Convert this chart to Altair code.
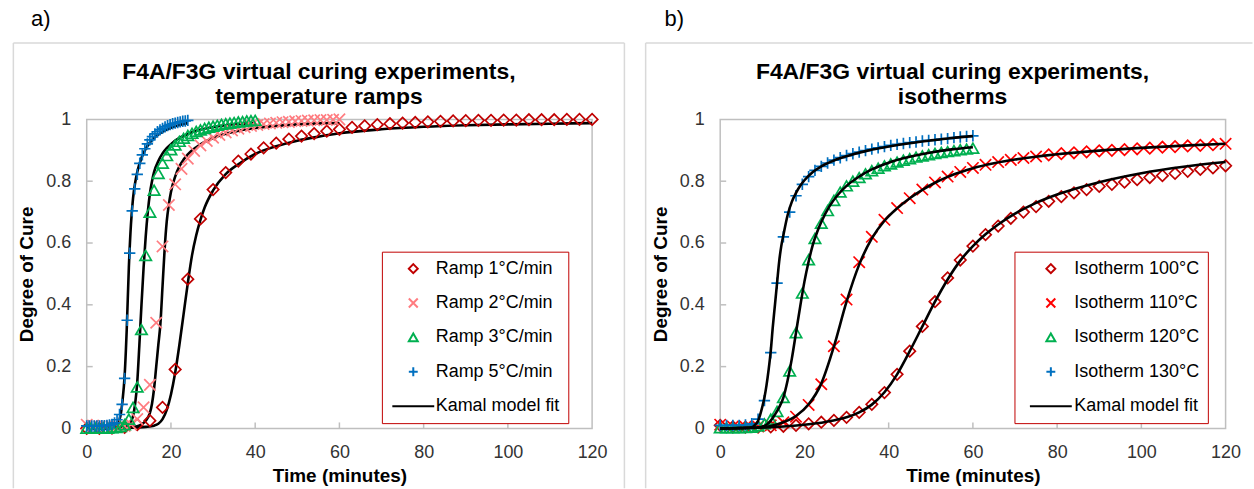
import altair as alt
import pandas as pd

FONT = "Liberation Sans"

# ---------------- panel a) temperature ramps ----------------
RAMP_NAMES = ["Ramp 1°C/min", "Ramp 2°C/min", "Ramp 3°C/min", "Ramp 5°C/min", "Kamal model fit"]
RAMP_COLORS = ["#C00000", "#FF7C80", "#00B050", "#0070C0", "#000000"]

RAMP1_T = [0, 3, 6, 9, 12, 15, 18, 21, 24, 27, 30, 33, 36, 39, 42, 45, 48, 51, 54, 57, 60,
           63, 66, 69, 72, 75, 78, 81, 84, 87, 90, 93, 96, 99, 102, 105, 108, 111, 114, 117, 120]
RAMP1_V = [0.0, 0.0, 0.001, 0.003, 0.012, 0.025, 0.068, 0.191, 0.483, 0.678, 0.773, 0.828, 0.865,
           0.888, 0.908, 0.923, 0.936, 0.946, 0.954, 0.962, 0.968, 0.974, 0.979, 0.983, 0.986, 0.988,
           0.99, 0.992, 0.994, 0.995, 0.996, 0.997, 0.997, 0.998, 0.998, 0.999, 0.999, 0.999, 1.0, 1.0, 1.0]

RAMP2_T = [0, 1.5, 3, 4.5, 6, 7.5, 9, 10.5, 12, 13.5, 15, 16.5, 18, 19.5, 21, 22.5, 24, 25.5, 27, 28.5,
           30, 31.5, 33, 34.5, 36, 37.5, 39, 40.5, 42, 43.5, 45, 46.5, 48, 49.5, 51, 52.5, 54, 55.5, 57, 58.5, 60]
RAMP2_V = [0.012, 0.009, 0.007, 0.006, 0.006, 0.006, 0.008, 0.013, 0.03, 0.068, 0.141, 0.342, 0.589,
           0.723, 0.79, 0.84, 0.873, 0.898, 0.916, 0.93, 0.941, 0.95, 0.958, 0.964, 0.97, 0.975, 0.979,
           0.982, 0.985, 0.987, 0.989, 0.991, 0.992, 0.994, 0.995, 0.996, 0.997, 0.998, 0.998, 0.999, 1.0]

RAMP3_T = [0, 1, 2, 3, 4, 5, 6, 7, 8, 9, 10, 11, 12, 13, 14, 15, 16, 17, 18, 19, 20,
           21, 22, 23, 24, 25, 26, 27, 28, 29, 30, 31, 32, 33, 34, 35, 36, 37, 38, 39, 40]
RAMP3_V = [0.001, 0.001, 0.001, 0.001, 0.001, 0.001, 0.002, 0.003, 0.006, 0.012, 0.03, 0.068, 0.134,
           0.32, 0.56, 0.70, 0.771, 0.825, 0.858, 0.883, 0.902, 0.917, 0.929, 0.939, 0.948, 0.955,
           0.961, 0.966, 0.971, 0.975, 0.978, 0.981, 0.984, 0.986, 0.988, 0.99, 0.992, 0.993, 0.995, 0.996, 0.997]

RAMP5_T = [0, 0.6, 1.2, 1.8, 2.4, 3.0, 3.6, 4.2, 4.8, 5.4, 6.0, 6.6, 7.2, 7.8, 8.4, 9.0, 9.6, 10.2,
           10.8, 11.4, 12.0, 12.6, 13.2, 13.8, 14.4, 15.0, 15.6, 16.2, 16.8, 17.4, 18.0, 18.6, 19.2,
           19.8, 20.4, 21.0, 21.6, 22.2, 22.8, 23.4, 24.0]
RAMP5_V = [0.008, 0.008, 0.008, 0.008, 0.008, 0.008, 0.009, 0.009, 0.01, 0.011, 0.013, 0.018, 0.028,
           0.045, 0.078, 0.162, 0.35, 0.567, 0.704, 0.775, 0.822, 0.858, 0.885, 0.905, 0.921, 0.934,
           0.944, 0.953, 0.96, 0.966, 0.971, 0.976, 0.98, 0.983, 0.986, 0.988, 0.99, 0.992, 0.994, 0.995, 0.997]

FIT1_T = [0, 10, 14, 16, 17, 18, 19, 20, 21, 22, 23, 24, 25, 26, 27, 28, 30, 33, 36, 40, 45, 50, 55,
          60, 70, 80, 90, 100, 110, 120]
FIT1_V = [0, 0.002, 0.005, 0.009, 0.015, 0.03, 0.06, 0.11, 0.18, 0.27, 0.37, 0.47, 0.56, 0.625, 0.675,
          0.715, 0.77, 0.823, 0.855, 0.888, 0.913, 0.931, 0.944, 0.955, 0.968, 0.976, 0.981, 0.984, 0.986, 0.988]
FIT2_T = [0, 10, 12, 13, 14, 15, 15.5, 16, 16.5, 17, 17.5, 18, 18.5, 19, 19.5, 20, 21, 22, 23, 24, 26,
          28, 30, 35, 40, 45, 50, 55, 60]
FIT2_V = [0, 0.003, 0.007, 0.013, 0.025, 0.05, 0.08, 0.13, 0.2, 0.27, 0.34, 0.46, 0.58, 0.67, 0.725,
          0.765, 0.815, 0.848, 0.87, 0.887, 0.91, 0.927, 0.94, 0.96, 0.972, 0.979, 0.984, 0.987, 0.988]
FIT3_T = [0, 8, 10, 10.5, 11, 11.5, 12, 12.5, 13, 13.5, 14, 14.5, 15, 15.5, 16, 17, 18, 19, 20, 22, 24,
          26, 28, 30, 33, 36, 40]
FIT3_V = [0, 0.003, 0.012, 0.022, 0.04, 0.08, 0.15, 0.27, 0.4, 0.52, 0.62, 0.7, 0.76, 0.8, 0.83, 0.865,
          0.89, 0.907, 0.92, 0.94, 0.953, 0.963, 0.97, 0.975, 0.981, 0.985, 0.988]
FIT5_T = [0, 6, 7, 7.5, 8, 8.5, 9, 9.5, 10, 10.5, 11, 11.5, 12, 13, 14, 15, 16, 18, 20, 22, 24]
FIT5_V = [0, 0.002, 0.008, 0.018, 0.04, 0.09, 0.17, 0.32, 0.52, 0.66, 0.745, 0.795, 0.83, 0.875, 0.905,
          0.925, 0.94, 0.96, 0.973, 0.982, 0.988]

# ---------------- panel b) isotherms ----------------
ISO_NAMES = ["Isotherm 100°C", "Isotherm 110°C", "Isotherm 120°C", "Isotherm 130°C", "Kamal model fit"]
ISO_COLORS = ["#C00000", "#FF0000", "#00B050", "#0070C0", "#000000"]

ISO100_T = RAMP1_T
ISO100_V = [0.01, 0.005, 0.004, 0.004, 0.005, 0.007, 0.01, 0.015, 0.02, 0.026, 0.036, 0.052, 0.078,
            0.116, 0.175, 0.25, 0.33, 0.41, 0.487, 0.545, 0.59, 0.627, 0.655, 0.68, 0.70, 0.718, 0.735,
            0.75, 0.762, 0.773, 0.783, 0.79, 0.797, 0.805, 0.812, 0.818, 0.825, 0.832, 0.838, 0.843, 0.85]
ISO110_T = RAMP1_T
ISO110_V = [0.012, 0.006, 0.005, 0.006, 0.01, 0.02, 0.038, 0.076, 0.143, 0.266, 0.417, 0.538, 0.62,
            0.675, 0.713, 0.745, 0.773, 0.796, 0.815, 0.83, 0.843, 0.853, 0.862, 0.869, 0.875, 0.88,
            0.885, 0.889, 0.892, 0.895, 0.898, 0.9, 0.902, 0.905, 0.907, 0.91, 0.912, 0.914, 0.916, 0.918, 0.921]
ISO110_DIAMOND_RANGE = [78, 117]   # in the source these 110°C points are drawn as diamonds
ISO120_T = RAMP2_T
ISO120_V = [0.002, 0.002, 0.002, 0.002, 0.003, 0.004, 0.008, 0.015, 0.03, 0.055, 0.10, 0.186, 0.31,
            0.438, 0.546, 0.615, 0.664, 0.705, 0.738, 0.765, 0.785, 0.80, 0.812, 0.824, 0.834, 0.842,
            0.85, 0.856, 0.862, 0.868, 0.873, 0.878, 0.882, 0.886, 0.89, 0.893, 0.896, 0.899, 0.902, 0.904, 0.907]
ISO130_T = RAMP2_T
ISO130_V = [0.01, 0.01, 0.01, 0.01, 0.011, 0.015, 0.03, 0.09, 0.245, 0.47, 0.62, 0.70, 0.753, 0.79,
            0.815, 0.835, 0.848, 0.859, 0.868, 0.876, 0.883, 0.889, 0.894, 0.899, 0.904, 0.908, 0.912,
            0.916, 0.919, 0.922, 0.925, 0.927, 0.93, 0.932, 0.934, 0.936, 0.938, 0.941, 0.943, 0.945, 0.947]

FIT100_T = [0, 10, 15, 20, 25, 30, 33, 36, 39, 42, 45, 48, 51, 54, 57, 60, 63, 66, 70, 75, 80, 90, 100, 110, 120]
FIT100_V = [0, 0.003, 0.006, 0.012, 0.021, 0.036, 0.052, 0.077, 0.117, 0.175, 0.25, 0.33, 0.41, 0.482,
            0.543, 0.59, 0.628, 0.66, 0.695, 0.73, 0.757, 0.797, 0.826, 0.847, 0.862]
FIT110_T = [0, 9, 12, 15, 18, 21, 24, 27, 30, 33, 36, 39, 42, 45, 48, 51, 54, 57, 60, 65, 70, 80, 90, 100, 110, 120]
FIT110_V = [0, 0.002, 0.008, 0.02, 0.04, 0.078, 0.145, 0.265, 0.41, 0.53, 0.615, 0.672, 0.712, 0.745,
            0.772, 0.795, 0.814, 0.829, 0.842, 0.858, 0.87, 0.887, 0.899, 0.908, 0.915, 0.921]
FIT120_T = [0, 9, 11, 12, 13, 14, 15, 16, 17, 18, 19, 20, 21, 22, 23, 24, 26, 28, 30, 33, 36, 40, 45, 50, 55, 60]
FIT120_V = [0, 0.003, 0.012, 0.025, 0.045, 0.068, 0.1, 0.155, 0.225, 0.31, 0.395, 0.475, 0.54, 0.595,
            0.635, 0.668, 0.72, 0.757, 0.785, 0.815, 0.838, 0.86, 0.879, 0.893, 0.903, 0.91]
FIT130_T = [0, 7, 8, 8.5, 9, 9.5, 10, 10.5, 11, 11.5, 12, 12.5, 13, 13.5, 14, 14.5, 15, 16, 17, 18, 19,
            20, 22, 24, 27, 30, 35, 40, 45, 50, 55, 60]
FIT130_V = [0, 0.002, 0.008, 0.015, 0.025, 0.045, 0.07, 0.1, 0.14, 0.19, 0.25, 0.33, 0.4, 0.47, 0.54,
            0.59, 0.625, 0.69, 0.733, 0.762, 0.785, 0.803, 0.83, 0.848, 0.867, 0.881, 0.899, 0.912, 0.923,
            0.932, 0.94, 0.946]

X_TICKS = [0, 20, 40, 60, 80, 100, 120]
Y_TICKS = [0, 0.2, 0.4, 0.6, 0.8, 1]
X_INNER_TICKS = [20, 40, 60, 80, 100]
Y_INNER_TICKS = [0.2, 0.4, 0.6, 0.8]

TITLE_LINE1 = "F4A/F3G virtual curing experiments,"
LEFT_TITLE_LINE2 = "temperature ramps"
RIGHT_TITLE_LINE2 = "isotherms"

# marker shapes: diamond, x-cross, triangle, plus, and a line for the fit entry
SHAPES = ["diamond", "M-1,-1L1,1M-1,1L1,-1", "triangle-up", "M-1,0L1,0M0,-1L0,1", "M-4.7,0L4.7,0"]

W, H = 507, 310
BORDER = "#BFBFBF"
FRAME = "#D9D9D9"
MSIZE = 130
MSTROKE = 1.7


def points_table(names, series):
    rows = []
    for name, (ts, vs) in zip(names, series):
        for t, v in zip(ts, vs):
            rows.append({"t": t, "v": v, "series": name})
    return pd.DataFrame(rows)


def fits_table(fits):
    rows = []
    for i, (ts, vs) in enumerate(fits):
        for t, v in zip(ts, vs):
            rows.append({"t": t, "v": v, "curve": i})
    return pd.DataFrame(rows)


def panel(pts_df, tail_df, fit_df, names, colors, title_lines, title_x, letter, lx, ly,
          sym_off, lab_off, lines_on_top, origin, frame, right_edge):
    x = alt.X("t:Q", scale=alt.Scale(domain=[0, 120], nice=False, zero=False),
              axis=alt.Axis(values=X_TICKS, format="d", title="Time (minutes)", labelFlush=False))
    y = alt.Y("v:Q", scale=alt.Scale(domain=[0, 1], nice=False),
              axis=alt.Axis(values=Y_TICKS, format="~g", title="Degree of Cure", labelFlush=False))
    leg = alt.Legend(title=None, orient="none", legendX=lx, legendY=ly, direction="vertical",
                     strokeColor="#C00000", fillColor="white", padding=8,
                     symbolSize=80, symbolStrokeWidth=2, symbolOffset=sym_off, labelOffset=lab_off,
                     labelFont=FONT, labelFontSize=18, labelColor="black", rowPadding=16.5)
    one = pd.DataFrame({"k": [0]})

    anchor = alt.Chart(one).mark_rule(color="white", strokeWidth=1).encode(
        x=alt.value(origin[0]), y=alt.value(origin[1]), y2=alt.value(origin[1] + 1))
    fl, ft, fr, fb = frame
    frame_layers = [
        alt.Chart(one).mark_rule(color=FRAME, strokeWidth=1.5).encode(
            x=alt.value(fl), y=alt.value(ft), y2=alt.value(fb)),
        alt.Chart(one).mark_rule(color=FRAME, strokeWidth=1.5).encode(
            x=alt.value(fl), x2=alt.value(fr), y=alt.value(ft)),
    ]
    if right_edge:
        frame_layers.append(alt.Chart(one).mark_rule(color=FRAME, strokeWidth=1.5).encode(
            x=alt.value(fr), y=alt.value(ft), y2=alt.value(fb)))

    xt = alt.Chart(pd.DataFrame({"t": X_INNER_TICKS})).mark_rule(color=BORDER, strokeWidth=1.5).encode(
        x=x, y=alt.value(H), y2=alt.value(H - 6))
    yt = alt.Chart(pd.DataFrame({"v": Y_INNER_TICKS})).mark_rule(color=BORDER, strokeWidth=1.5).encode(
        y=y, x=alt.value(0), x2=alt.value(6))

    pts = alt.Chart(pts_df).mark_point(filled=False, size=MSIZE, strokeWidth=MSTROKE, opacity=1).encode(
        x=x, y=y,
        color=alt.Color("series:N", scale=alt.Scale(domain=names, range=colors), legend=leg),
        shape=alt.Shape("series:N", scale=alt.Scale(domain=names, range=SHAPES), legend=leg),
    )
    lines = alt.Chart(fit_df).mark_line(color="black", strokeWidth=2.6, interpolate="monotone").encode(
        x=x, y=y, detail="curve:N")
    lab = alt.Chart(one).mark_text(text=letter, font=FONT, fontSize=22, align="left",
                                   baseline="alphabetic", color="black").encode(
        x=alt.value(-55.8), y=alt.value(-93.3))
    t1 = alt.Chart(one).mark_text(text=title_lines[0], font=FONT, fontSize=23, fontWeight="bold",
                                  align="center", baseline="alphabetic", color="black").encode(
        x=alt.value(title_x), y=alt.value(-40.2))
    t2 = alt.Chart(one).mark_text(text=title_lines[1], font=FONT, fontSize=23, fontWeight="bold",
                                  align="center", baseline="alphabetic", color="black").encode(
        x=alt.value(title_x), y=alt.value(-15.8))

    layers = [anchor] + frame_layers + [xt, yt]
    tail_layers = []
    if tail_df is not None:
        tail_layers = [alt.Chart(tail_df).mark_point(filled=False, size=MSIZE, strokeWidth=MSTROKE, opacity=1,
                                                     shape="diamond", color=colors[1]).encode(x=x, y=y)]
    if lines_on_top:
        layers += [pts] + tail_layers + [lines]
    else:
        layers += [lines, pts] + tail_layers
    layers += [lab, t1, t2]
    return alt.layer(*layers).properties(width=W, height=H)


left_pts = points_table(RAMP_NAMES, [(RAMP1_T, RAMP1_V), (RAMP2_T, RAMP2_V),
                                     (RAMP3_T, RAMP3_V), (RAMP5_T, RAMP5_V)])
left_fit = fits_table([(FIT1_T, FIT1_V), (FIT2_T, FIT2_V), (FIT3_T, FIT3_V), (FIT5_T, FIT5_V)])

right_all = points_table(ISO_NAMES, [(ISO100_T, ISO100_V), (ISO110_T, ISO110_V),
                                     (ISO120_T, ISO120_V), (ISO130_T, ISO130_V)])
is_tail = ((right_all["series"] == ISO_NAMES[1]) & (right_all["t"] >= ISO110_DIAMOND_RANGE[0])
           & (right_all["t"] <= ISO110_DIAMOND_RANGE[1]))
right_pts = right_all[~is_tail].reset_index(drop=True)
right_tail = right_all[is_tail].reset_index(drop=True)
right_fit = fits_table([(FIT100_T, FIT100_V), (FIT110_T, FIT110_V), (FIT120_T, FIT120_V), (FIT130_T, FIT130_V)])

left = panel(left_pts, None, left_fit, RAMP_NAMES, RAMP_COLORS,
             [TITLE_LINE1, LEFT_TITLE_LINE2], 232.9, "a)",
             296.1, 132.7, 14.5, 13.5, False,
             (-85.1, -116.8), (-73.6, -76.6, 539.4, 370.0), True)
right = panel(right_pts, right_tail, right_fit, ISO_NAMES, ISO_COLORS,
              [TITLE_LINE1, RIGHT_TITLE_LINE2], 233.1, "b)",
              295.2, 132.7, 19.5, 14.5, True,
              (-74.8, -116.8), (-74.8, -76.6, 534.0, 370.0), False)

chart = alt.hconcat(left, right, spacing=17.5).resolve_scale(
    color="independent", shape="independent"
).resolve_legend(color="independent", shape="independent").properties(
    padding={"left": 0, "top": 0, "right": 0, "bottom": 0}
).configure(font=FONT).configure_view(
    stroke=BORDER, strokeWidth=1.5
).configure_axis(
    domain=False, ticks=False, tickSize=0, grid=False,
    labelFont=FONT, labelFontSize=18, labelColor="#333333",
    titleFont=FONT, titleFontSize=19, titleFontWeight="bold", titleColor="black"
).configure_axisX(labelPadding=15, titlePadding=5).configure_axisY(
    labelPadding=16, titlePadding=9
)

chart.save("out.html", embed_options={"renderer": "svg", "actions": False})
